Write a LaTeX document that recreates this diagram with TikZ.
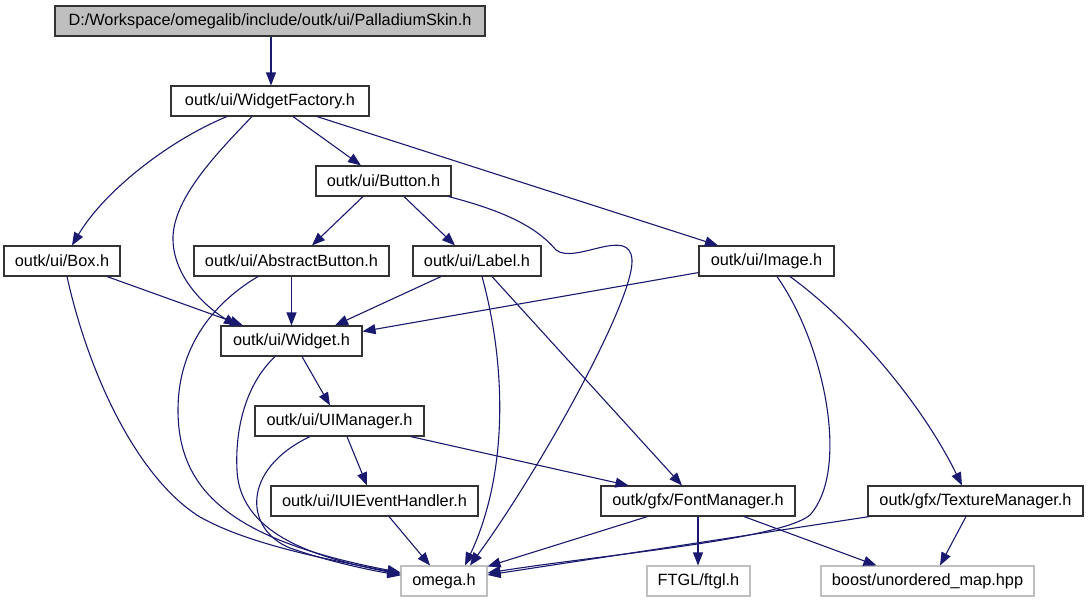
\documentclass[tikz,border=0pt]{standalone}
\usepackage{fontspec}
\setmainfont{Liberation Sans}
\usetikzlibrary{arrows.meta}
\definecolor{edgeblue}{HTML}{191970}
\definecolor{lightgr}{HTML}{BFBFBF}
\begin{document}
\begin{tikzpicture}[x=1pt,y=-1pt,
  file/.style={draw=black!80, line width=1.1pt, fill=white, minimum height=30pt, inner sep=0pt,
    font=\fontsize{16.3}{18}\selectfont, text=black},
  ext/.style={file, draw=lightgr},
  e/.style={draw=edgeblue, line width=1.1pt, -{Triangle[length=13pt,width=10pt]}}]
\useasboundingbox (0,0) rectangle (1088,603);
% nodes
\node[file, fill=lightgr, minimum width=430pt] (ps) at (270,21) {D:/Workspace/omegalib/include/outk/ui/PalladiumSkin.h};
\node[file, minimum width=198pt] (wf) at (270,101) {outk/ui/WidgetFactory.h};
\node[file, minimum width=135pt] (btn) at (383.5,181) {outk/ui/Button.h};
\node[file, minimum width=116pt] (box) at (62,261) {outk/ui/Box.h};
\node[file, minimum width=195pt] (ab) at (291.5,261) {outk/ui/AbstractButton.h};
\node[file, minimum width=128pt] (lab) at (477,261) {outk/ui/Label.h};
\node[file, minimum width=135pt] (img) at (766.5,261) {outk/ui/Image.h};
\node[file, minimum width=141pt] (wid) at (291.5,341) {outk/ui/Widget.h};
\node[file, minimum width=169pt] (uim) at (339.5,421) {outk/ui/UIManager.h};
\node[file, minimum width=207pt] (iui) at (374.5,501) {outk/ui/IUIEventHandler.h};
\node[file, minimum width=194pt] (fm) at (698,501) {outk/gfx/FontManager.h};
\node[file, minimum width=215pt] (tm) at (975.5,501) {outk/gfx/TextureManager.h};
\node[ext, minimum width=86pt] (omega) at (444,581) {omega.h};
\node[ext, minimum width=103pt] (ftgl) at (698.5,581) {FTGL/ftgl.h};
\node[ext, minimum width=213pt] (boost) at (927.5,581) {boost/unordered\_map.hpp};
% straight edges
\draw[e] ([xshift=1pt]ps.south) -- ([xshift=1pt]wf.north);
\draw[e] ([xshift=23pt]wf.south) -- ([xshift=-22.5pt]btn.north);
\draw[e] ([xshift=47pt]wf.south) -- ([xshift=-48.5pt]img.north);
\draw[e] ([xshift=-20.5pt]btn.south) -- ([xshift=20.5pt]ab.north);
\draw[e] ([xshift=20.5pt]btn.south) -- ([xshift=-22pt]lab.north);
\draw[e] ([xshift=45pt]box.south) -- ([xshift=-48.5pt]wid.north);
\draw[e] (ab.south) -- (wid.north);
\draw[e] ([xshift=-36pt]lab.south) -- ([xshift=43.5pt]wid.north);
\draw[e] ([xshift=15pt]lab.south) -- ([xshift=-16pt]fm.north);
\draw[e] ([yshift=4pt]img.south west) -- ([yshift=-6pt]wid.north east);
\draw[e] ([xshift=10.5pt]wid.south) -- ([xshift=-9.5pt]uim.north);
\draw[e] ([xshift=7.5pt]uim.south) -- ([xshift=-7.5pt]iui.north);
\draw[e] ([xshift=-14pt]uim.south east) -- ([xshift=28pt]fm.north west);
\draw[e] ([xshift=14.5pt]iui.south) -- ([xshift=-14pt]omega.north);
\draw[e] ([xshift=47pt]fm.south west) -- ([yshift=-1pt]omega.north east);
\draw[e] (fm.south) -- ([xshift=-0.5pt]ftgl.north);
\draw[e] ([xshift=46pt]fm.south) -- ([xshift=56pt]boost.north west);
\draw[e] ([xshift=-9.5pt]tm.south) -- ([xshift=12.5pt]boost.north);
\draw[e] ([xshift=2pt]tm.south west) -- ([yshift=6pt]omega.east);
% curved edges
\draw[e] ([xshift=-43pt]wf.south) .. controls (170,140) and (105,190) .. ([xshift=10pt]box.north);
\draw[e] ([xshift=-18pt]wf.south) .. controls (215,155) and (172,200) .. (173,240)
   .. controls (174,280) and (210,310) .. ([xshift=-54.5pt]wid.north);
\draw[e] ([xshift=-3pt]btn.south east) .. controls (500,210) and (535,225) .. (556,250)
   .. controls (575,265) and (630,225) .. (632,260)
   .. controls (634,300) and (540,470) .. ([xshift=26pt]omega.north);
\draw[e] ([xshift=5pt]box.south) .. controls (90,380) and (140,480) .. (200,517)
   .. controls (250,545) and (330,560) .. ([yshift=-8pt]omega.north west);
\draw[e] ([xshift=-33.5pt]ab.south) .. controls (210,305) and (178,350) .. (178,410)
   .. controls (178,490) and (230,540) .. ([yshift=-7pt]omega.north west);
\draw[e] ([xshift=-16.5pt]wid.south) .. controls (245,385) and (235,430) .. (237,470)
   .. controls (240,540) and (330,560) .. ([yshift=-9pt]omega.north west);
\draw[e] ([xshift=-29.5pt]uim.south) .. controls (240,470) and (245,530) .. (290,548)
   .. controls (330,562) and (370,570) .. ([yshift=-10pt]omega.north west);
\draw[e] ([xshift=5pt]lab.south) .. controls (505,360) and (510,470) .. ([xshift=21pt]omega.north);
\draw[e] ([xshift=10.5pt]img.south) .. controls (825,345) and (850,470) .. (810,515)
   .. controls (780,540) and (600,555) .. ([yshift=8pt]omega.east);
\draw[e] ([xshift=23.5pt]img.south) .. controls (850,320) and (920,400) .. ([xshift=-13.5pt]tm.north);
\end{tikzpicture}
\end{document}
